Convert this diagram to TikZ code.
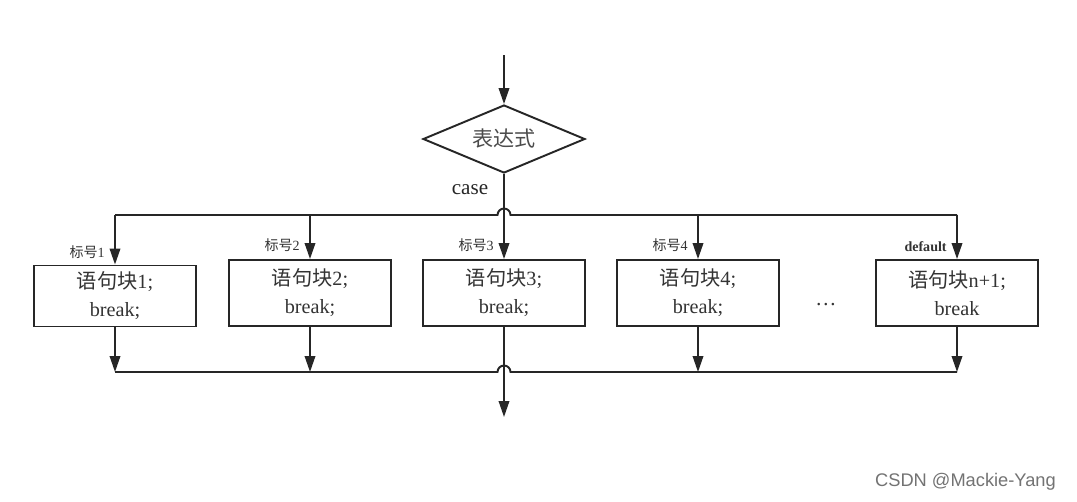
\documentclass[tikz,border=0pt]{standalone}
\usepackage{fontspec}
\setmainfont{Liberation Serif}
\newfontfamily\cjk{Noto Sans CJK SC}
\newfontfamily\wmfont{Liberation Sans}
\usetikzlibrary{shapes.geometric,arrows.meta}

\begin{document}
\begin{tikzpicture}[
  x=0.02cm, y=-0.02cm,
  line/.style={draw=black!85, line width=1.1pt},
  arr/.style={line, -{Triangle[length=0.32cm,width=0.21cm]}},
  block/.style={
    line,
    rectangle,
    align=center,
    minimum width=3.24cm,
    minimum height=1.32cm,
    inner sep=0pt,
    text=black!80,
    font=\fontsize{11.5}{16}\selectfont
  },
  decision/.style={
    line,
    diamond,
    aspect=2.4,
    minimum width=3.24cm,
    minimum height=1.36cm,
    inner sep=0pt,
    text=black!70,
    font=\cjk\fontsize{12}{14}\selectfont
  },
  tag/.style={
    inner sep=0pt,
    anchor=south east,
    text=black!80,
    font=\fontsize{8}{9}\selectfont
  }
]
\useasboundingbox[fill=white] (0,0) rectangle (1077,501);

% --------------------
% Decision and blocks
% --------------------
\node[decision] (cond) at (504,139) {表达式};

\node[block, minimum height=1.22cm] (b1) at (115,296) {{\cjk 语句块}1;\\break;};
\node[block] (b2) at (310,293) {{\cjk 语句块}2;\\break;};
\node[block] (b3) at (504,293) {{\cjk 语句块}3;\\break;};
\node[block] (b4) at (698,293) {{\cjk 语句块}4;\\break;};
\node[block] (b5) at (957,293) {{\cjk 语句块}n+1;\\break};

\node[text=black!80, font=\fontsize{12}{14}\selectfont] (dots) at (826,305) {\dots};

% --------------------
% Helper points
% --------------------
\coordinate (entry) at (504,55);
\coordinate (split) at (504,215);
\coordinate (merge) at (504,372);
\coordinate (exit) at (504,417);

% --------------------
% Arrows: top
% --------------------
\draw[arr] (entry) -- (cond.north);
\draw[line] (b1.north |- split) -- ([xshift=-0.13cm]split)
  arc[start angle=180, end angle=0, radius=0.13cm] -- (b5.north |- split);
\draw[arr] (cond.south) -- (b3.north);
\draw[arr] (b1.north |- split) -- (b1.north);
\draw[arr] (b2.north |- split) -- (b2.north);
\draw[arr] (b4.north |- split) -- (b4.north);
\draw[arr] (b5.north |- split) -- (b5.north);

% --------------------
% Arrows: bottom
% --------------------
\draw[line] (b1.south |- merge) -- ([xshift=-0.13cm]merge)
  arc[start angle=180, end angle=0, radius=0.13cm] -- (b5.south |- merge);
\draw[arr] (b1.south) -- (b1.south |- merge);
\draw[arr] (b2.south) -- (b2.south |- merge);
\draw[arr] (b4.south) -- (b4.south |- merge);
\draw[arr] (b5.south) -- (b5.south |- merge);
\draw[arr] (b3.south) -- (exit);

% --------------------
% Labels
% --------------------
\node[text=black!85, font=\fontsize{12}{14}\selectfont] (caselbl) at (470,190) {case};
\node[tag] (t1) at ([xshift=-0.2cm, yshift=0.12cm]b1.north) {{\cjk 标号}1};
\node[tag] (t2) at ([xshift=-0.2cm, yshift=0.14cm]b2.north) {{\cjk 标号}2};
\node[tag] (t3) at ([xshift=-0.2cm, yshift=0.14cm]b3.north) {{\cjk 标号}3};
\node[tag] (t4) at ([xshift=-0.2cm, yshift=0.14cm]b4.north) {{\cjk 标号}4};
\node[tag, font=\bfseries\fontsize{8}{9}\selectfont] (t5) at ([xshift=-0.2cm, yshift=0.14cm]b5.north) {default};

\node[anchor=east, text=black!55, font=\wmfont\fontsize{10.4}{12}\selectfont] (mark) at (1062,482) {CSDN @Mackie-Yang};

\end{tikzpicture}
\end{document}
